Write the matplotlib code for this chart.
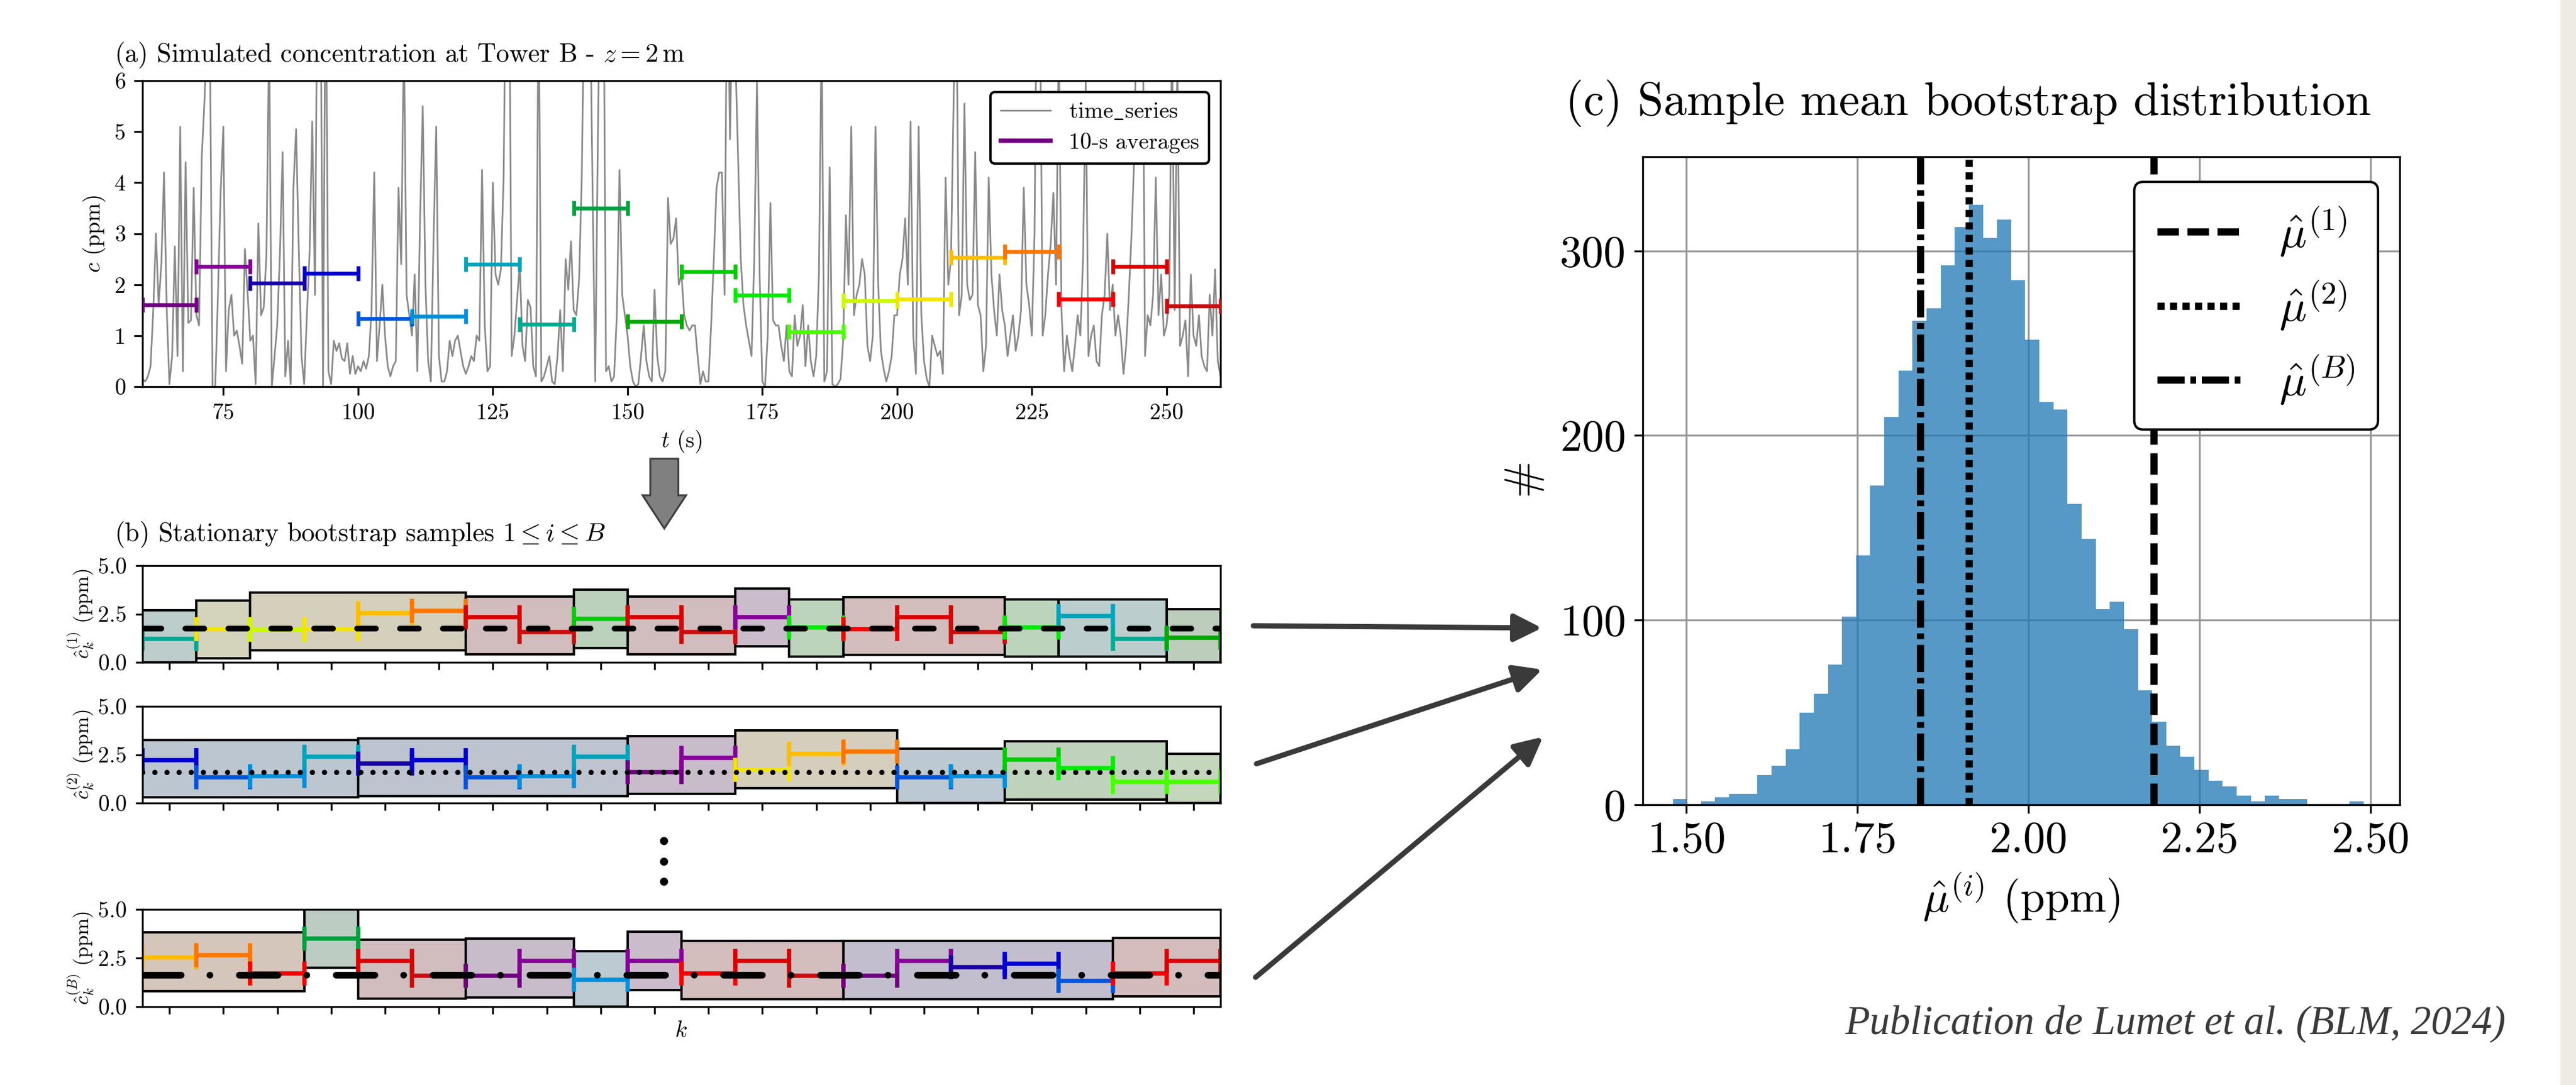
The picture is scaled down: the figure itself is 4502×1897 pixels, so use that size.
import numpy as np
import matplotlib
matplotlib.use("Agg")
import matplotlib.pyplot as plt
from matplotlib.patches import Rectangle, FancyArrow, FancyArrowPatch
from matplotlib.lines import Line2D

plt.rcParams['font.family'] = 'cmr10'
plt.rcParams['mathtext.fontset'] = 'cm'
plt.rcParams['axes.formatter.use_mathtext'] = False
plt.rcParams['axes.unicode_minus'] = False

W, H = 4502, 1897

# concentration at tower B (ppm), sampled every 0.5 s from t = 60 s to t = 260 s
conc = [
    0.15, 0.1, 0.2, 0.4, 1.5, 3.0, 1.6, 2.4, 4.2, 1.5, 0.05, 0.6, 2.75, 0.6, 5.1, 0.3, 4.4, 1.25, 1.3, 3.9,
    1.4, 1.2, 4.5, 5.6, 7.0, 7.0, 0.0, 0.0, 1.8, 3.8, 5.1, 0.3, 1.5, 1.8, 1.0, 1.1, 0.8, 0.45, 2.7, 1.85,
    0.9, 1.0, 0.05, 3.2, 1.4, 1.55, 2.6, 7.0, 0.0, 0.6, 1.2, 2.6, 4.6, 0.2, 0.9, 0.05, 3.9, 5.05, 2.7, 0.6,
    0.05, 1.4, 2.6, 5.2, 1.8, 9.0, 9.0, 0.0, 9.0, 0.3, 0.05, 0.9, 0.7, 0.85, 0.55, 0.5, 0.85, 0.25, 0.6, 0.25,
    0.4, 0.3, 0.5, 0.35, 0.6, 1.5, 4.2, 0.5, 1.2, 2.0, 1.0, 0.4, 0.2, 0.4, 0.5, 3.9, 2.4, 7.0, 1.8, 1.4,
    1.0, 2.2, 0.3, 3.3, 5.5, 2.0, 0.5, 0.1, 2.9, 5.1, 0.6, 0.1, 0.1, 0.3, 0.9, 0.6, 0.9, 1.0, 0.7, 0.4,
    0.25, 0.4, 0.6, 0.5, 1.0, 0.9, 4.25, 1.2, 0.3, 0.4, 4.0, 2.2, 2.0, 2.3, 4.1, 9.0, 9.0, 0.6, 1.0, 1.7,
    2.4, 0.8, 0.5, 1.7, 1.55, 0.4, 0.2, 8.0, 0.1, 0.2, 0.4, 0.6, 0.1, 0.05, 0.6, 1.5, 0.3, 2.5, 1.9, 2.85,
    1.5, 1.4, 2.1, 4.1, 8.0, 9.0, 8.0, 3.9, 0.1, 5.0, 9.0, 9.0, 0.3, 0.4, 0.1, 0.2, 1.4, 4.25, 1.8, 1.4,
    1.0, 0.4, 0.1, 0.0, 0.05, 0.6, 1.2, 0.5, 0.2, 0.1, 1.9, 0.6, 0.2, 0.1, 0.3, 3.7, 2.8, 2.9, 3.3, 2.0,
    2.2, 1.4, 1.2, 1.1, 1.2, 1.2, 0.6, 0.05, 0.3, 0.1, 0.1, 1.2, 2.5, 3.9, 4.2, 4.2, 1.8, 9.0, 4.85, 8.0,
    6.5, 4.5, 2.5, 1.6, 1.2, 0.9, 0.6, 2.5, 6.0, 2.2, 0.1, 0.0, 1.0, 3.6, 1.3, 1.2, 1.2, 0.8, 0.5, 1.2,
    0.3, 0.2, 1.4, 0.8, 1.0, 1.6, 0.4, 1.2, 0.5, 0.2, 0.6, 2.2, 7.0, 0.1, 0.3, 4.3, 0.05, 0.0, 0.05, 0.15,
    0.9, 3.36, 2.0, 5.1, 1.4, 1.8, 2.0, 2.5, 2.2, 0.8, 0.5, 1.0, 5.1, 2.0, 0.7, 0.35, 0.1, 0.3, 0.6, 1.4,
    1.4, 2.2, 2.5, 3.3, 2.0, 5.2, 1.0, 0.25, 5.1, 1.4, 0.5, 0.15, 0.0, 1.0, 0.8, 0.6, 0.7, 0.25, 4.1, 2.0,
    2.5, 5.7, 8.0, 1.4, 1.8, 5.55, 2.0, 1.7, 1.8, 4.6, 1.6, 1.4, 0.3, 0.8, 4.1, 2.2, 1.5, 1.0, 2.2, 1.5,
    1.2, 0.6, 1.0, 1.4, 0.7, 1.0, 1.5, 3.9, 2.0, 1.6, 1.0, 3.0, 9.0, 8.0, 1.0, 1.4, 2.2, 2.8, 3.8, 2.0,
    7.0, 1.5, 0.3, 1.0, 0.6, 0.3, 0.8, 1.4, 1.0, 2.5, 6.0, 0.6, 1.0, 1.2, 0.5, 0.4, 1.4, 1.8, 3.0, 1.5,
    2.0, 1.0, 1.4, 1.0, 0.25, 0.8, 1.8, 3.0, 4.5, 8.0, 6.5, 9.0, 0.6, 1.4, 1.2, 1.8, 4.1, 1.4, 2.2, 1.0,
    1.2, 1.8, 7.0, 1.5, 6.5, 0.8, 1.0, 1.3, 0.2, 2.2, 1.0, 0.8, 1.4, 0.6, 0.4, 0.3, 1.8, 1.0, 2.3, 0.5,
    0.2,
]
t = np.arange(60, 260.25, 0.5)

# 10-s window averages (ppm), windows start at 60, 70, ..., 250 s
avg_start = np.arange(60, 260, 10)
avg_vals = [1.60, 2.35, 2.03, 2.22, 1.33, 1.38, 2.40, 1.22, 3.50, 1.28,
            2.25, 1.80, 1.08, 1.68, 1.72, 2.53, 2.65, 1.72, 2.35, 1.58]

# stationary bootstrap samples: window index drawn at each position k
sample_idx = [
    [7, 14, 13, 14, 15, 16, 18, 19, 10, 18, 19, 1, 11, 17, 18, 19, 11, 6, 7, 9],
    [3, 4, 5, 6, 2, 3, 4, 5, 6, 0, 1, 14, 15, 16, 4, 5, 10, 11, 12, 12],
    [15, 16, 17, 8, 18, 19, 0, 1, 5, 1, 17, 18, 19, 0, 1, 2, 3, 4, 17, 18],
]
# blocks of each sample: (first k, last k + 1, lower, upper)
sample_blocks = [
    [(0, 1, 0.0, 2.70), (1, 2, 0.20, 3.20), (2, 6, 0.62, 3.60), (6, 8, 0.42, 3.41),
     (8, 9, 0.75, 3.75), (9, 11, 0.42, 3.41), (11, 12, 0.84, 3.82), (12, 13, 0.29, 3.26),
     (13, 16, 0.37, 3.38), (16, 17, 0.29, 3.26), (17, 19, 0.29, 3.26), (19, 20, 0.0, 2.75)],
    [(0, 4, 0.30, 3.26), (4, 9, 0.36, 3.33), (9, 11, 0.47, 3.46), (11, 14, 0.76, 3.77),
     (14, 16, 0.0, 2.82), (16, 19, 0.17, 3.19), (19, 20, 0.0, 2.55)],
    [(0, 3, 0.80, 3.82), (3, 4, 2.00, 5.50), (4, 6, 0.41, 3.43), (6, 8, 0.48, 3.49),
     (8, 9, 0.0, 2.85), (9, 10, 0.85, 3.84), (10, 13, 0.38, 3.39), (13, 18, 0.38, 3.39),
     (18, 20, 0.53, 3.54)],
]
sample_mean = [1.75, 1.59, 1.61]
sample_tags = ['1', '2', 'B']

# bootstrap distribution of the sample mean
hist_edges = np.linspace(1.48, 2.49, 50)
hist_counts = [3, 0, 2, 4, 6, 6, 16, 21, 30, 50, 60, 76, 102, 135, 173, 210, 235, 262, 269, 292,
               313, 325, 307, 317, 284, 252, 218, 214, 163, 144, 106, 110, 95, 62, 45, 32, 26, 19,
               13, 10, 5, 2, 5, 3, 3, 0, 0, 0, 2]
mu_hat = [2.183, 1.913, 1.842]

colors = plt.cm.nipy_spectral(np.linspace(0, 1, 22)[1:-1])

# line styles for mu^(1), mu^(2), mu^(B)
row_styles = [dict(dashes=(3.3, 4.2), lw=2.4), dict(dashes=(0.01, 2.3), lw=2.2),
              dict(dashes=(5.8, 4.3, 0.01, 4.4), lw=2.8)]
vline_styles = [dict(dashes=(3.0, 1.2)), dict(dashes=(1.0, 0.75)), dict(dashes=(3.8, 0.8, 0.8, 0.8))]


def box(x0, y0, x1, y1):
    return [x0 / W, 1 - y1 / H, (x1 - x0) / W, (y1 - y0) / H]


fig = plt.figure(figsize=(W / 300, H / 300), dpi=300, facecolor='white')
# paper strip along the right border
fig.patches.append(Rectangle((4475 / W, 0), 27 / W, 1, transform=fig.transFigure,
                             facecolor='#f0ebe2', edgecolor='none', zorder=0))

# ---- (a) time series with 10-s averages
ax = fig.add_axes(box(249, 141, 2133, 676))
ax.plot(t, conc, color='#8a8a8a', lw=0.7)
for i, (s, v) in enumerate(zip(avg_start, avg_vals)):
    ax.errorbar(s + 5, v, xerr=5, fmt='none', ecolor=colors[i], elinewidth=1.6,
                capsize=3.2, capthick=1.6, zorder=3)
ax.set_xlim(60, 260)
ax.set_ylim(0, 6)
ax.set_xticks([75, 100, 125, 150, 175, 200, 225, 250])
ax.set_yticks(range(7))
ax.tick_params(labelsize=9.5)
ax.set_xlabel(r'$t$ (s)', fontsize=9.5, labelpad=2)
ax.set_ylabel(r'$c$ (ppm)', fontsize=9.5, labelpad=3)
handles = [Line2D([], [], color='#8a8a8a', lw=0.7), Line2D([], [], color=colors[0], lw=1.8)]
ax.legend(handles, [r'$\mathrm{time\_series}$', '10-s averages'], loc='upper right',
          fontsize=9.5, handlelength=2.2, handletextpad=0.8, edgecolor='black',
          framealpha=1, fancybox=True, borderpad=0.45, labelspacing=0.45)

# ---- (b) bootstrap samples
row_boxes = [(989, 1158), (1235, 1404), (1590, 1760)]
for r in range(3):
    y0, y1 = row_boxes[r]
    axb = fig.add_axes(box(249, y0, 2133, y1))
    idx = sample_idx[r]
    for k0, k1, lo, hi in sample_blocks[r]:
        mean_col = np.mean([colors[j][:3] for j in idx[k0:k1]], axis=0)
        face = 0.9 * np.array([0.82, 0.82, 0.82]) + 0.1 * mean_col
        axb.add_patch(Rectangle((k0, lo), k1 - k0, hi - lo, facecolor=face,
                                edgecolor='black', lw=1.0, zorder=1))
    for k, j in enumerate(idx):
        axb.errorbar(k + 0.5, avg_vals[j], xerr=0.5, fmt='none', ecolor=colors[j],
                     elinewidth=1.8, capsize=5, capthick=1.8, zorder=2)
    axb.plot([0, 20], [sample_mean[r], sample_mean[r]], color='black',
             dash_capstyle='round', zorder=4, **row_styles[r])
    axb.set_xlim(0, 20)
    axb.set_ylim(0, 5)
    axb.set_xticks(np.arange(20) + 0.5)
    axb.set_xticklabels([])
    axb.set_yticks([0, 2.5, 5])
    axb.set_yticklabels(['0.0', '2.5', '5.0'])
    axb.tick_params(labelsize=9.5, length=3)
    axb.set_ylabel(r'$\hat{c}_k^{(%s)}$ (ppm)' % sample_tags[r], fontsize=8.5, labelpad=1)

# ---- (c) histogram of bootstrap means
axc = fig.add_axes(box(2871, 274, 4194, 1407))
axc.hist(hist_edges[:-1], bins=hist_edges, weights=hist_counts, color='tab:blue',
         alpha=0.75, zorder=2)
labels_c = [r'$\hat{\mu}^{(1)}$', r'$\hat{\mu}^{(2)}$', r'$\hat{\mu}^{(B)}$']
for m, st, lab in zip(mu_hat, vline_styles, labels_c):
    axc.axvline(m, color='black', lw=3.0, label=lab, zorder=3, **st)
axc.set_xlim(1.436, 2.543)
axc.set_ylim(0, 351)
axc.set_xticks([1.5, 1.75, 2.0, 2.25, 2.5])
axc.set_xticklabels(['1.50', '1.75', '2.00', '2.25', '2.50'])
axc.set_yticks([0, 100, 200, 300])
axc.set_yticklabels(['0', '100', '200', '300'])
axc.grid(True, color='0.6', lw=0.8, zorder=0)
axc.set_axisbelow(True)
axc.tick_params(labelsize=18.5)
axc.set_xlabel(r'$\hat{\mu}^{(i)}$ (ppm)', fontsize=18.5, labelpad=4)
axc.set_ylabel(r'$\#$', fontsize=18.5, labelpad=6)
axc.legend(loc='upper right', fontsize=19, handlelength=1.9, handletextpad=0.8,
           edgecolor='black', framealpha=1, borderpad=0.5, labelspacing=0.45,
           borderaxespad=0, bbox_to_anchor=(0.971, 0.961))

# ---- overlay in pixel units for titles, arrows and notes
ov = fig.add_axes([0, 0, 1, 1], zorder=10)
ov.set_xlim(0, W)
ov.set_ylim(H, 0)
ov.axis('off')
ov.patch.set_alpha(0)

ov.text(200, 96, r'(a) Simulated concentration at Tower B - $z = 2\,$m', fontsize=11,
        va='center', ha='left')
ov.text(200, 935, r'(b) Stationary bootstrap samples $1 \leq i \leq B$', fontsize=11,
        va='center', ha='left')
ov.text(2736, 180, '(c) Sample mean bootstrap distribution', fontsize=19.5,
        va='center', ha='left')
ov.text(1190, 1803, r'$k$', fontsize=9.5, va='center', ha='center')

ov.add_patch(FancyArrow(1161, 802, 0, 122, width=49, head_width=76, head_length=58,
                        length_includes_head=True, facecolor='#808080', edgecolor='#404040', lw=0.8))
for yy in (1470, 1506, 1541):
    ov.plot(1160, yy, 'o', color='black', ms=2.4)

for (x0, y0), (x1, y1) in [((2182, 1094), (2703, 1098)), ((2188, 1338), (2703, 1168)),
                           ((2188, 1714), (2703, 1283))]:
    ov.add_patch(FancyArrowPatch((x0, y0), (x1, y1), arrowstyle='-|>,head_length=0.7,head_width=0.35',
                                 mutation_scale=14, color='#3a3a3a', lw=2.2))

ov.text(3224, 1790, 'Publication de Lumet et al. (BLM, 2024)', fontsize=17, style='italic',
        family='Liberation Serif', color='#3a3a3a', va='center', ha='left')

fig.savefig('out.png', dpi=300, facecolor=fig.get_facecolor())
